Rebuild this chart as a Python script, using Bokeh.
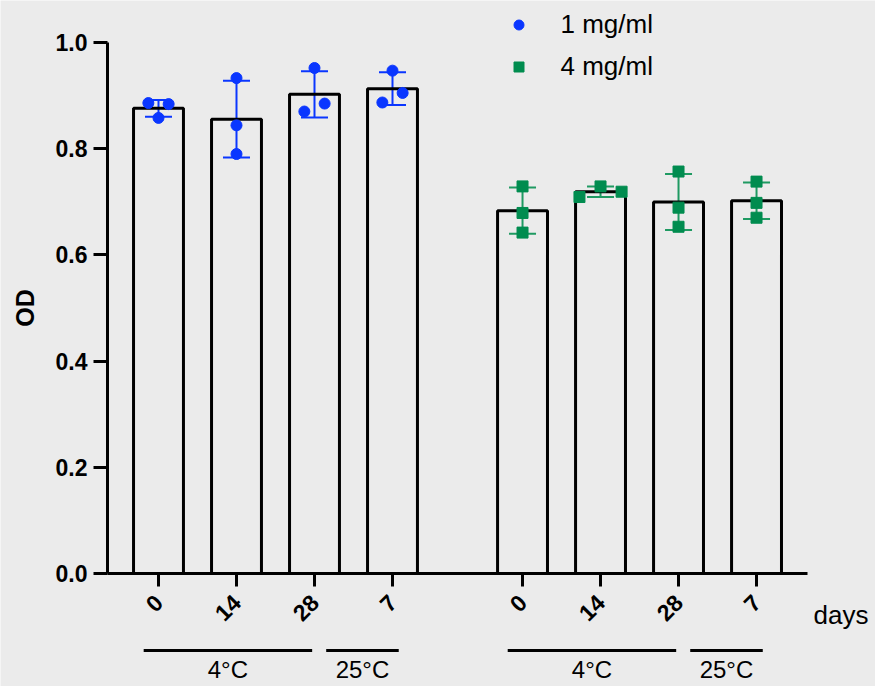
import math
import numpy as np
from bokeh.plotting import figure
from bokeh.models import (ColumnDataSource, Whisker, TeeHead, FixedTicker,
                          PrintfTickFormatter, Legend, LegendItem, Label,
                          LabelSet, Arrow)
from bokeh.core.properties import value
from bokeh.embed import file_html
from bokeh.resources import INLINE

# ---------------- data ----------------
day_labels = ["0", "14", "28", "7"]
temp_groups = ["4°C", "25°C"]
series_names = ["1 mg/ml", "4 mg/ml"]

od_1mg = [[0.886, 0.884, 0.858],
          [0.933, 0.844, 0.790],
          [0.952, 0.870, 0.885],
          [0.947, 0.887, 0.905]]
od_4mg = [[0.729, 0.679, 0.642],
          [0.729, 0.709, 0.719],
          [0.757, 0.689, 0.653],
          [0.738, 0.698, 0.670]]

# horizontal scatter of replicate points (style)
jitter_1mg = [[-0.13, 0.13, 0.0], [0.0, 0.0, 0.0], [0.0, -0.13, 0.13], [0.0, -0.13, 0.13]]
jitter_4mg = [[0.0, 0.0, 0.0], [0.0, -0.27, 0.27], [0.0, 0.0, 0.0], [0.0, 0.0, 0.0]]

# ---------------- style ----------------
BG = "#ebebeb"
BLUE = "#0a36ff"
GREEN = "#008c4f"
GREEN_ERR = "#1f9a62"
FONT = "Liberation Sans"
GROUP_GAP = 0.667
BAR_W = 0.64
AX_X0, AX_X1 = -0.654, 8.32      # x-axis extent
AX_Y0, AX_Y1 = 0.0, 1.0          # y-axis extent

n = len(day_labels)
positions = [g * (n + GROUP_GAP) + i for g in range(2) for i in range(n)]

p = figure(width=875, height=686, x_range=(-2.0256, 9.1923),
           y_range=(-0.2128, 1.0791), output_backend="svg",
           toolbar_location=None, min_border=0, min_border_left=0,
           min_border_right=0, min_border_top=0, min_border_bottom=0,
           background_fill_color=BG, border_fill_color=BG,
           outline_line_color=None, title=None)
p.xgrid.visible = False
p.ygrid.visible = False

renderers = []
for g, (vals, jit, col, ecol, marker) in enumerate([
        (od_1mg, jitter_1mg, BLUE, BLUE, "circle"),
        (od_4mg, jitter_4mg, GREEN, GREEN_ERR, "square")]):
    xs = positions[g * n:(g + 1) * n]
    arr = np.array(vals)
    means = arr.mean(axis=1)
    sds = arr.std(axis=1, ddof=1)
    p.vbar(x=xs, top=means, bottom=0, width=BAR_W, fill_color=None,
           line_color="black", line_width=3)
    wsrc = ColumnDataSource(dict(x=xs, upper=means + sds, lower=means - sds))
    w = Whisker(base="x", upper="upper", lower="lower", source=wsrc,
                line_color=ecol, line_width=2,
                upper_head=TeeHead(size=27, line_color=ecol, line_width=2),
                lower_head=TeeHead(size=27, line_color=ecol, line_width=2))
    p.add_layout(w)
    px, py = [], []
    for i in range(n):
        for v, j in zip(vals[i], jit[i]):
            px.append(xs[i] + j)
            py.append(v)
    r = p.scatter(x=px, y=py, marker=marker, size=11, color=col)
    renderers.append(r)

legend = Legend(items=[LegendItem(label=series_names[0], renderers=[renderers[0]]),
                       LegendItem(label=series_names[1], renderers=[renderers[1]])],
                location=(505.5, 604.5), orientation="vertical",
                glyph_width=25, glyph_height=25, label_height=25, spacing=11,
                padding=0, margin=0, label_standoff=30,
                label_text_font_size="26px", label_text_font=FONT,
                label_text_color="black",
                border_line_color=None, background_fill_alpha=0)
p.add_layout(legend)

# y axis (fixed at the left end of the x-axis extent)
ya = p.yaxis[0]
ya.fixed_location = AX_X0
ya.bounds = (AX_Y0, AX_Y1)
ya.ticker = FixedTicker(ticks=[0.0, 0.2, 0.4, 0.6, 0.8, 1.0])
ya.formatter = PrintfTickFormatter(format="%.1f")
ya.axis_line_width = 3
ya.axis_line_color = "black"
ya.major_tick_line_width = 3
ya.major_tick_line_color = "black"
ya.major_tick_out = 14
ya.major_tick_in = 0
ya.minor_tick_line_color = None
ya.major_label_text_font = FONT
ya.major_label_text_font_size = "23px"
ya.major_label_text_font_style = "bold"
ya.major_label_text_color = "black"
ya.major_label_standoff = 6
ya.axis_label = "OD"
ya.axis_label_text_font = FONT
ya.axis_label_text_font_size = "25px"
ya.axis_label_text_font_style = "bold"
ya.axis_label_text_color = "black"
ya.axis_label_standoff = 14

# x axis (fixed at y = 0)
xa = p.xaxis[0]
xa.fixed_location = AX_Y0
xa.bounds = (AX_X0, AX_X1)
xa.ticker = FixedTicker(ticks=positions)
xa.major_label_overrides = {pos: day_labels[k % n] for k, pos in enumerate(positions)}
xa.major_label_orientation = math.pi / 4
xa.axis_line_width = 3
xa.axis_line_color = "black"
xa.major_tick_line_width = 3
xa.major_tick_line_color = "black"
xa.major_tick_out = 13
xa.major_tick_in = 0
xa.minor_tick_line_color = None
xa.major_label_text_font = FONT
xa.major_label_text_font_size = "23px"
xa.major_label_text_font_style = "bold"
xa.major_label_text_color = "black"
xa.major_label_standoff = 12

# unit label
p.add_layout(Label(x=8.397, y=-0.079, text="days",
                   text_align="left", text_baseline="alphabetic",
                   text_font=FONT, text_font_size="26px", text_color="black"))

# temperature brackets
LINE_Y = -0.145
TEXT_Y = -0.1977
seg_x0, seg_x1, lab_x, lab_t = [], [], [], []
for g in range(2):
    xs = positions[g * n:(g + 1) * n]
    spans = [(xs[0] - 0.19, xs[2] - 0.03), (xs[3] - 0.85, xs[3] + 0.08)]
    for t, (a, b) in zip(temp_groups, spans):
        seg_x0.append(a)
        seg_x1.append(b)
        lab_x.append((a + b) / 2)
        lab_t.append(t)

seg_src = ColumnDataSource(dict(x0=seg_x0, x1=seg_x1, y=[LINE_Y] * len(seg_x0)))
p.add_layout(Arrow(start=None, end=None, x_start="x0", x_end="x1", y_start="y",
                   y_end="y", source=seg_src, line_width=3, line_color="black"))
lab_src = ColumnDataSource(dict(x=lab_x, y=[TEXT_Y] * len(lab_x), text=lab_t))
p.add_layout(LabelSet(x="x", y="y", text="text", source=lab_src,
                      text_align="center", text_baseline="alphabetic",
                      text_font=value(FONT), text_font_size=value("24px"),
                      text_color="black"))

open("out.html", "w").write(file_html(p, INLINE))
